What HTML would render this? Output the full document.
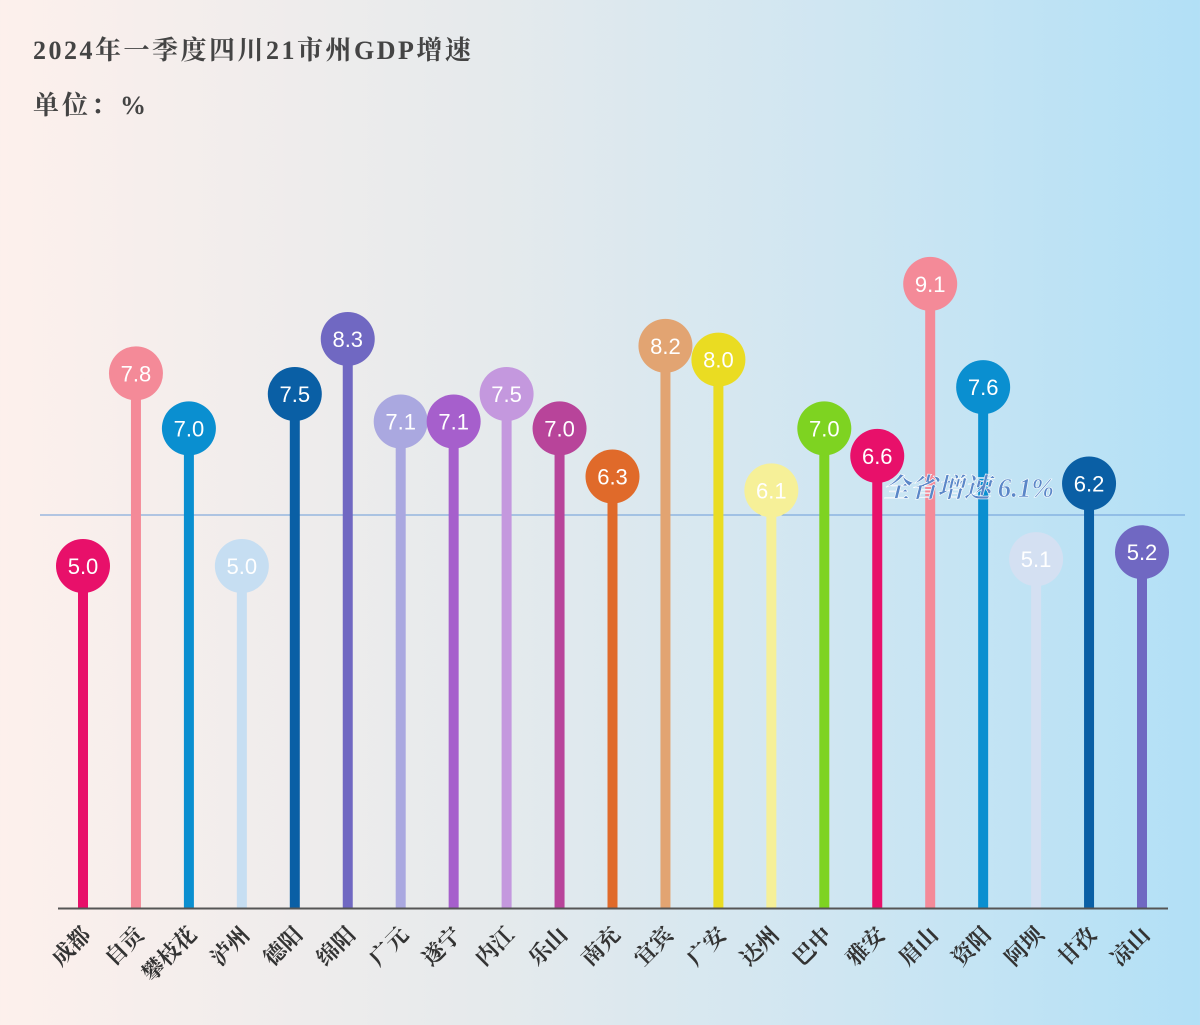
<!DOCTYPE html>
<html><head><meta charset="utf-8"><style>
html,body{margin:0;padding:0}
body{width:1200px;height:1020px;overflow:hidden;background:linear-gradient(90deg,#fdf0ec 0%,#e6eaec 40%,#cfe6f2 70%,#b2e0f6 100%);font-family:"Liberation Serif","Noto Serif CJK SC",serif}
</style></head><body>
<svg width="1200" height="1020" xmlns="http://www.w3.org/2000/svg">
<text x="33" y="59" font-size="26" letter-spacing="2.5" font-weight="bold" fill="#444" font-family="Liberation Serif,Noto Serif CJK SC,serif">2024年一季度四川21市州GDP增速</text>
<text x="33" y="114" font-size="26" letter-spacing="3" font-weight="bold" fill="#444" font-family="Liberation Serif,Noto Serif CJK SC,serif">单位：%</text>
<line x1="40" y1="515" x2="1185" y2="515" stroke="#6a9bd8" stroke-width="1"/>
<g id="bars"></g>
<line x1="58" y1="908.5" x2="1168" y2="908.5" stroke="#555" stroke-width="2"/>
<text x="883" y="497" font-size="27" font-style="italic" font-weight="bold" fill="#5b87c8" stroke="#fff" stroke-width="0.6" font-family="Liberation Serif,Noto Serif CJK SC,serif">全省增速 6.1%</text>
</svg>
<script>
var d=[["成都",5.0,"#e8106a"],["自贡",7.8,"#f48a98"],["攀枝花",7.0,"#0a8fd0"],["泸州",5.0,"#c6def2"],["德阳",7.5,"#0a5fa5"],["绵阳",8.3,"#7068c2"],["广元",7.1,"#aaa8e0"],["遂宁",7.1,"#a65fcc"],["内江",7.5,"#c498de"],["乐山",7.0,"#b8449a"],["南充",6.3,"#e06a2a"],["宜宾",8.2,"#e2a472"],["广安",8.0,"#eadc22"],["达州",6.1,"#f6f098"],["巴中",7.0,"#7ed321"],["雅安",6.6,"#e8106a"],["眉山",9.1,"#f48a98"],["资阳",7.6,"#0a8fd0"],["阿坝",5.1,"#d4e0f2"],["甘孜",6.2,"#0a5fa5"],["凉山",5.2,"#7068c2"]];
var s="";
d.forEach(function(e,i){var x=83+i*52.95,y=910-e[1]*68.8;
s+='<rect x="'+(x-5)+'" y="'+y+'" width="10" height="'+(908-y)+'" fill="'+e[2]+'"/>';
s+='<circle cx="'+x+'" cy="'+y+'" r="27" fill="'+e[2]+'"/>';
s+='<text x="'+x+'" y="'+(y+8)+'" text-anchor="middle" font-size="22" fill="#fff" font-family="Liberation Sans,sans-serif">'+e[1].toFixed(1)+'</text>';
s+='<text transform="translate('+(x+9)+',936) rotate(-45)" text-anchor="end" font-size="22" font-weight="bold" fill="#333" font-family="Liberation Serif,Noto Serif CJK SC,serif">'+e[0]+'</text>';});
document.getElementById("bars").innerHTML=s;
</script>
</body></html>
